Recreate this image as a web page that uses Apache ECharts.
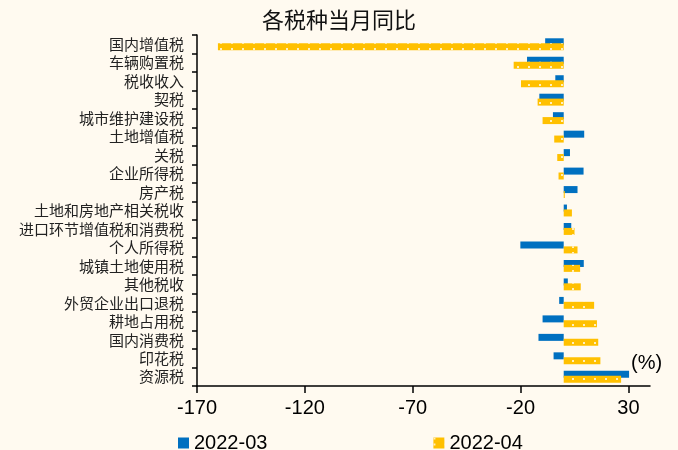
<!DOCTYPE html>
<html>
<head>
<meta charset="utf-8">
<script src="https://cdn.jsdelivr.net/npm/echarts@6/dist/echarts.min.js"></script>
<style>
  html, body { margin: 0; padding: 0; background: #FFFAF0; }
  #chart { width: 678px; height: 450px; }
</style>
</head>
<body>
<div id="chart"></div>
<script>
// Tax categories, top to bottom
const categories = [
  '国内增值税', '车辆购置税', '税收收入', '契税', '城市维护建设税', '土地增值税',
  '关税', '企业所得税', '房产税', '土地和房地产相关税收', '进口环节增值税和消费税',
  '个人所得税', '城镇土地使用税', '其他税收', '外贸企业出口退税', '耕地占用税',
  '国内消费税', '印花税', '资源税'
];

// Year-on-year change for the month (%)
const march2022 = [
  -8.6, -17.0, -3.9, -11.3, -5.0, 9.5,
  2.9, 9.2, 6.4, 1.5, 3.5,
  -20.1, 9.3, 1.9, -2.1, -9.8,
  -11.7, -4.7, 30.3
];
const april2022 = [
  -160.3, -23.2, -19.8, -12.1, -9.8, -4.4,
  -3.0, -2.4, 0.5, 3.8, 5.0,
  6.4, 7.6, 7.9, 14.1, 15.4,
  16.0, 17.0, 26.6
];

const seriesNames = ['2022-03', '2022-04'];
const xTicks = [-170, -120, -70, -20, 30];

const chart = echarts.init(document.getElementById('chart'), null, { renderer: 'canvas' });

const dotDecal = {
  symbol: 'rect',
  symbolSize: 1,
  color: 'rgba(255,255,255,0.75)',
  dashArrayX: [2, 9],
  dashArrayY: [2, 4],
  rotation: 0
};

chart.setOption({
  backgroundColor: '#FFFAF0',
  animation: false,
  title: {
    text: '各税种当月同比',
    left: 'center',
    top: 4,
    textStyle: {
      fontFamily: 'Noto Sans CJK SC',
      fontSize: 22,
      fontWeight: 'normal',
      color: '#111'
    }
  },
  legend: {
    data: seriesNames,
    left: 173,
    top: 428,
    itemWidth: 11,
    itemHeight: 11,
    itemGap: 166,
    icon: 'rect',
    textStyle: {
      fontFamily: 'Liberation Sans',
      fontSize: 20,
      color: '#000'
    }
  },
  grid: {
    left: 197,
    right: 28,
    top: 35,
    bottom: 64,
    containLabel: false
  },
  xAxis: {
    type: 'value',
    min: -170,
    max: 40,
    interval: 50,
    splitLine: { show: false },
    axisLine: { show: true, onZero: false, lineStyle: { color: '#000', width: 1.5 } },
    axisTick: { show: true, length: 7, customValues: xTicks, lineStyle: { color: '#000', width: 1.5 } },
    axisLabel: {
      customValues: xTicks,
      margin: 12,
      fontFamily: 'Liberation Sans',
      fontSize: 20,
      color: '#000'
    }
  },
  yAxis: [
    {
      type: 'category',
      data: categories,
      inverse: true,
      axisLine: { show: false },
      axisTick: { show: false },
      axisLabel: {
        interval: 0,
        margin: 13,
        fontFamily: 'Noto Sans CJK SC',
        fontSize: 15,
        color: '#222'
      }
    },
    {
      type: 'category',
      data: categories,
      inverse: true,
      position: 'left',
      axisLine: { show: true, onZero: true, lineStyle: { color: '#000', width: 1.5 } },
      axisTick: { show: true, interval: 0, length: 5, lineStyle: { color: '#000', width: 1.5 } },
      axisLabel: { show: false }
    }
  ],
  series: [
    {
      name: seriesNames[0],
      type: 'bar',
      yAxisIndex: 0,
      data: march2022,
      barWidth: 7,
      barGap: '-30%',
      itemStyle: { color: '#0070C0' }
    },
    {
      name: seriesNames[1],
      type: 'bar',
      yAxisIndex: 0,
      data: april2022,
      barWidth: 7,
      itemStyle: { color: '#FFC000', decal: dotDecal }
    }
  ],
  graphic: [
    {
      type: 'text',
      left: 631,
      top: 353,
      style: {
        text: '(%)',
        fontFamily: 'Liberation Sans',
        fontSize: 20,
        fill: '#000'
      }
    }
  ]
});
</script>
</body>
</html>
